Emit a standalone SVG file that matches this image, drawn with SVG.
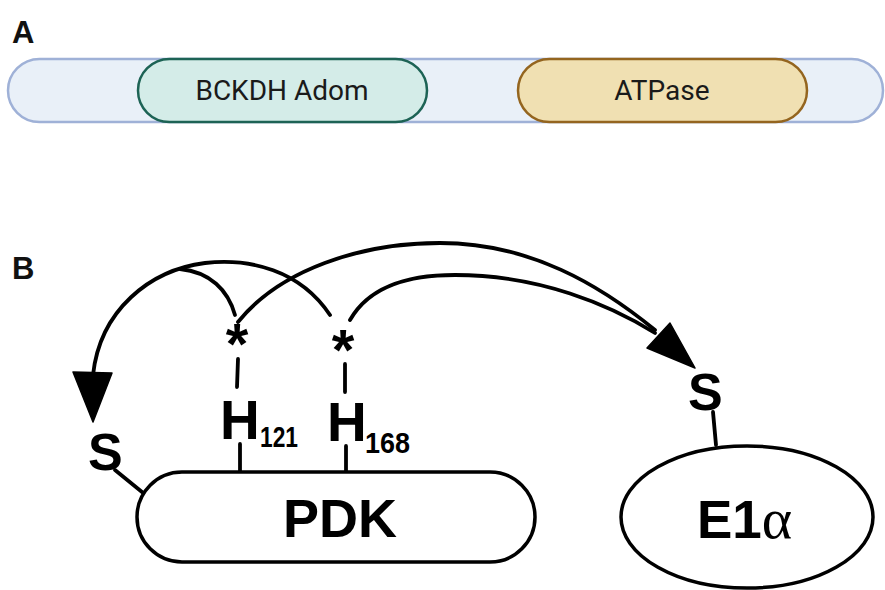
<svg xmlns="http://www.w3.org/2000/svg" width="885" height="590" viewBox="0 0 885 590">
<style>
.lbl{font-family:"Liberation Sans",Arial,sans-serif;font-weight:bold;fill:#111}
.dom{font-family:Roboto,"Liberation Sans",sans-serif;font-size:28px;fill:#1a1a1a;text-anchor:middle}
.ln{fill:none;stroke:#000;stroke-width:3.8;stroke-linecap:round}
.head{fill:#000;stroke:#000;stroke-width:1.5;stroke-linejoin:round}
.shape{fill:#fff;stroke:#000;stroke-width:3.5}
.b{font-family:"Liberation Sans",Arial,sans-serif;font-weight:bold;fill:#000}
</style>
<rect width="885" height="590" fill="#fff"/>
<text class="lbl" x="12" y="43" font-size="31">A</text>
<g id="bar">
<rect x="8" y="59" width="875" height="63" rx="31.5" fill="#e9f0f8" stroke="#9fb1d7" stroke-width="2.5"/>
</g>
<g id="bckdh">
<rect x="138" y="59" width="289" height="63" rx="31.5" fill="#d4ece8" stroke="#1d6355" stroke-width="2.5"/>
<text class="dom" x="282" y="100">BCKDH Adom</text>
</g>
<g id="atpase">
<rect x="518" y="59" width="289" height="63" rx="31.5" fill="#f0e0b2" stroke="#94651f" stroke-width="2.5"/>
<text class="dom" x="662" y="100">ATPase</text>
</g>
<text class="lbl" x="12" y="279" font-size="31">B</text>
<g id="connectors">
<path class="ln" d="M330,315 C300,270 250,258 205,263 C150,270 100,310 93,375"/>
<path class="ln" d="M235,315 C228,290 210,272 180,269"/>
<path class="ln" d="M238,322 C280,270 360,243 440,243 C530,243 600,285 655,330"/>
<path class="ln" d="M350,320 C370,285 410,275 455,275 C540,275 610,305 655,333"/>
<polygon class="head" points="73,372 112,373 93,422"/>
<polygon class="head" points="647,348 670,323 695,368"/>
<line class="ln" x1="238" y1="359" x2="237" y2="387"/>
<line class="ln" x1="345" y1="364" x2="345" y2="392"/>
<line class="ln" x1="240" y1="444" x2="240" y2="472"/>
<line class="ln" x1="346" y1="446" x2="346" y2="472"/>
<line class="ln" x1="115" y1="470" x2="142" y2="492"/>
<line class="ln" x1="713" y1="412" x2="716" y2="445"/>
</g>
<g id="star1"><text class="b" x="237" y="364" font-size="58" text-anchor="middle">*</text></g>
<g id="star2"><text class="b" x="343" y="370" font-size="58" text-anchor="middle">*</text></g>
<g id="h121">
<text class="b" x="220" y="439" font-size="55">H</text>
<text class="b" x="260" y="447" font-size="29" textLength="38" lengthAdjust="spacingAndGlyphs">121</text>
</g>
<g id="h168">
<text class="b" x="327" y="441" font-size="55">H</text>
<text class="b" x="365" y="453" font-size="29" textLength="45" lengthAdjust="spacingAndGlyphs">168</text>
</g>
<g id="s-left"><text class="b" x="88" y="470" font-size="52">S</text></g>
<g id="s-right"><text class="b" x="688" y="410" font-size="52">S</text></g>
<g id="pdk">
<rect class="shape" x="137" y="472" width="398" height="90" rx="45"/>
<text class="b" x="340" y="537" font-size="54" text-anchor="middle">PDK</text>
</g>
<g id="e1a">
<ellipse class="shape" cx="747" cy="517" rx="126" ry="71"/>
<text x="697" y="538"><tspan class="b" font-size="53">E1</tspan><tspan font-family="'Liberation Serif','DejaVu Serif',serif" font-size="58" fill="#000">α</tspan></text>
</g>
</svg>
